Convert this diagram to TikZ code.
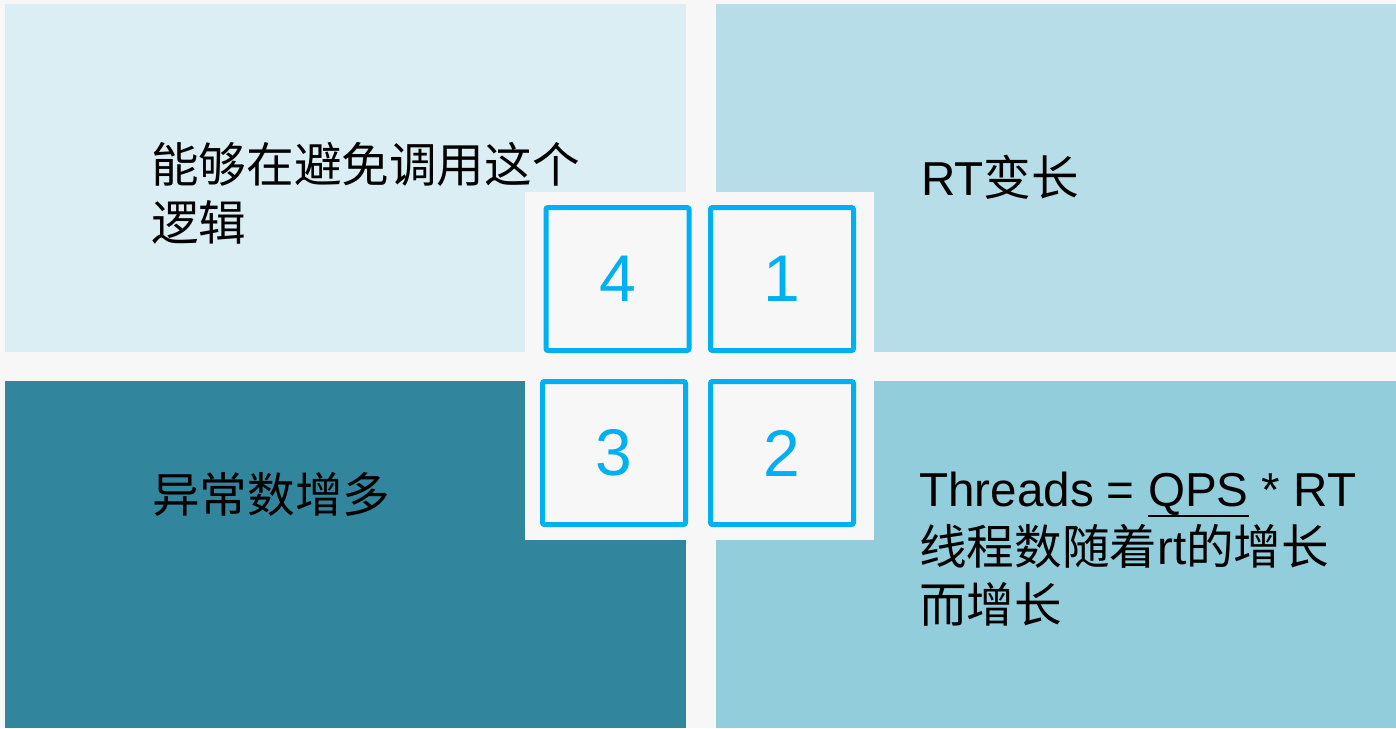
\documentclass[tikz,border=0pt]{standalone}
\usepackage{fontspec}
\usepackage{xcolor}
\setmainfont{Liberation Sans}
\newfontfamily\cjk{Noto Sans CJK SC}

\definecolor{bgcol}{HTML}{F7F7F7}
\definecolor{tlcol}{HTML}{DAEEF3}
\definecolor{trcol}{HTML}{B7DEE8}
\definecolor{blcol}{HTML}{31859C}
\definecolor{brcol}{HTML}{92CDDC}
\definecolor{boxblue}{HTML}{00B0F0}

\newsavebox\ulbox
\newcommand\ulword[1]{\sbox\ulbox{#1}\rlap{\rule[-11pt]{\wd\ulbox}{2pt}}\usebox\ulbox}

\begin{document}
\begin{tikzpicture}[x=1pt,y=-1pt,
    numbox/.style={draw=boxblue,line width=5pt,rounded corners=2pt,
      minimum width=143pt,minimum height=143pt,inner sep=0pt,
      text=boxblue,font=\fontsize{66}{66}\selectfont},
    txt/.style={anchor=base west,inner sep=0pt,align=left,
      font=\fontsize{47.6}{58}\selectfont}]
        % panels
        \fill[bgcol] (0,0) rectangle (1396,728);
        \fill[tlcol] (5,4) rectangle (686,352);
        \fill[trcol] (716,4) rectangle (1396,352);
        \fill[blcol] (5,381) rectangle (686,728);
        \fill[brcol] (716,381) rectangle (1396,728);
        \fill[bgcol] (525,192) rectangle (874,540);
        % numbered boxes
        \node[numbox] (box4) at (617.5,279) {4};
        \node[numbox] (box1) at (782,279) {1};
        \node[numbox] (box3) at (614,453) {3};
        \node[numbox] (box2) at (782,453) {2};
        % texts (base = last line)
        \node[txt] (txt4) at (151,240) {{\cjk 能够在避免调用这个}\\{\cjk 逻辑}};
        \node[txt] (txt1) at (921,195) {RT{\cjk 变长}};
        \node[txt] (txt3) at (152,512) {{\cjk 异常数增多}};
        \node[txt] (txt2) at (919,622) {Threads = \ulword{QPS} * RT\\{\cjk 线程数随着}rt{\cjk 的增长}\\{\cjk 而增长}};
\end{tikzpicture}
\end{document}
